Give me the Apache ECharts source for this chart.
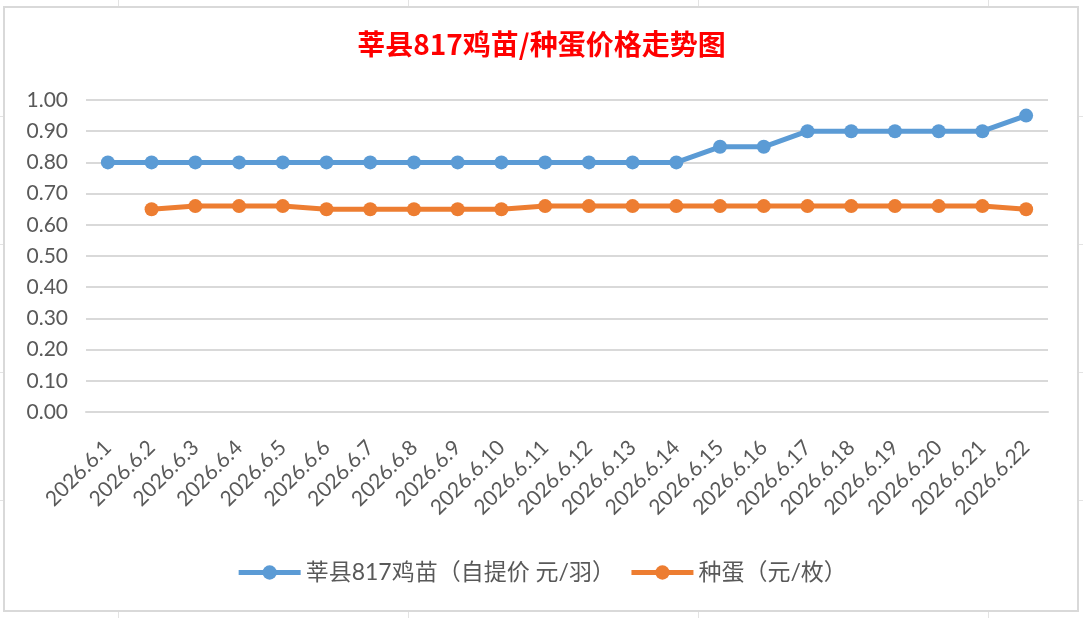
<!DOCTYPE html>
<html>

<head>
    <meta charset="utf-8">
    <title>莘县817鸡苗/种蛋价格走势图</title>
    <style>
        html, body { margin: 0; padding: 0; }
        body {
            width: 1083px; height: 618px; position: relative; overflow: hidden;
            background-color: #fff;
            /* 表格背景的浅色网格线 */
            background-image:
                linear-gradient(to right, #e3e3e3 1px, transparent 1px),
                linear-gradient(to bottom, #e3e3e3 1px, transparent 1px);
            background-size: 290px 128px;
            background-position: 118px 0, 0 -12px;
        }
        .frame {
            position: absolute; left: 3px; top: 6px; width: 1072px; height: 602px;
            border: 2px solid #d9d9d9; background: #fff;
        }
        .main { position: absolute; left: 0; top: 0; width: 1083px; height: 618px; }
    </style>
</head>

<body>
    <div class="frame"></div>
    <div class="main" id="main"></div>
    <script type="text/javascript" src="https://cdn.jsdelivr.net/npm/echarts@6/dist/echarts.min.js"></script>
    <script type="text/javascript">
    // 日期
    var dates = ['2026.6.1', '2026.6.2', '2026.6.3', '2026.6.4', '2026.6.5', '2026.6.6', '2026.6.7',
        '2026.6.8', '2026.6.9', '2026.6.10', '2026.6.11', '2026.6.12', '2026.6.13', '2026.6.14',
        '2026.6.15', '2026.6.16', '2026.6.17', '2026.6.18', '2026.6.19', '2026.6.20', '2026.6.21', '2026.6.22'];
    // 鸡苗 元/羽
    var chickPrice = [0.80, 0.80, 0.80, 0.80, 0.80, 0.80, 0.80, 0.80, 0.80, 0.80, 0.80, 0.80, 0.80, 0.80,
        0.85, 0.85, 0.90, 0.90, 0.90, 0.90, 0.90, 0.95];
    // 种蛋 元/枚（6.1 无数据）
    var eggPrice = [null, 0.65, 0.66, 0.66, 0.66, 0.65, 0.65, 0.65, 0.65, 0.65, 0.66, 0.66, 0.66, 0.66,
        0.66, 0.66, 0.66, 0.66, 0.66, 0.66, 0.66, 0.65];
    var seriesNames = ['莘县817鸡苗（自提价 元/羽）', '种蛋（元/枚）'];
    var yMin = 0, yMax = 1, yStep = 0.1;

    var txtFont = 'Lato, "Noto Sans CJK SC", sans-serif';
    var myChart = echarts.init(document.getElementById('main'));

    var option = {
        animation: false,
        color: ['#5b9bd5', '#ed7d31'],
        title: {
            text: '莘县817鸡苗/种蛋价格走势图',
            left: 'center',
            top: 25,
            textStyle: {
                color: '#ff0000',
                fontSize: 28,
                fontWeight: 'bold',
                fontFamily: '"Noto Sans CJK SC", sans-serif'
            }
        },
        legend: {
            data: seriesNames,
            left: 'center',
            top: 556,
            itemWidth: 62,
            itemHeight: 18,
            itemGap: 14,
            lineStyle: { width: 5 },
            textStyle: { color: '#595959', fontSize: 23, fontFamily: txtFont }
        },
        grid: { left: 86, right: 35, top: 100, bottom: 206 },
        xAxis: {
            type: 'category',
            data: dates,
            axisLine: { lineStyle: { color: '#d9d9d9', width: 2 } },
            axisTick: { show: false },
            axisLabel: {
                rotate: 45,
                margin: 32,
                color: '#595959',
                fontSize: 21,
                fontFamily: txtFont,
                interval: 0
            }
        },
        yAxis: {
            type: 'value',
            min: yMin,
            max: yMax,
            interval: yStep,
            axisLine: { show: false },
            axisTick: { show: false },
            splitLine: { lineStyle: { color: '#d9d9d9', width: 2 } },
            axisLabel: {
                margin: 18,
                color: '#595959',
                fontSize: 21,
                fontFamily: txtFont,
                formatter: function (v) { return v.toFixed(2); }
            }
        },
        series: [
            {
                name: seriesNames[0],
                type: 'line',
                data: chickPrice,
                symbol: 'circle',
                symbolSize: 14,
                lineStyle: { width: 5 }
            },
            {
                name: seriesNames[1],
                type: 'line',
                data: eggPrice,
                symbol: 'circle',
                symbolSize: 14,
                lineStyle: { width: 5 }
            }
        ]
    };

    myChart.setOption(option);
    </script>
</body>

</html>
